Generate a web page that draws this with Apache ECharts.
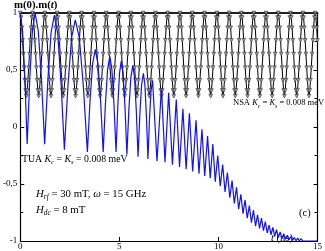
<!DOCTYPE html>
<html><head><meta charset="utf-8">
<script src="https://cdn.jsdelivr.net/npm/echarts@6/dist/echarts.min.js"></script>
<style>html,body{margin:0;padding:0;background:#fff}#c{width:325px;height:251px}</style>
</head><body><div id="c"></div>
<script>
// NSA: sampled every nsaStep ns starting at t = 0
var nsaStep = 0.03875;
var nsaValues = [
1,.96,.87,.76,.64,.52,.41,.32,.27,.32,.41,.52,.64,.76,.87,.96,
1,.96,.87,.76,.64,.52,.41,.32,.27,.32,.41,.52,.64,.76,.87,.96,
1,.96,.87,.76,.64,.52,.41,.32,.27,.32,.41,.52,.64,.76,.87,.96,
1,.96,.87,.76,.64,.52,.41,.32,.27,.32,.41,.52,.64,.76,.87,.96,
1,.96,.87,.76,.64,.52,.41,.32,.27,.32,.41,.52,.64,.76,.87,.96,
1,.96,.87,.76,.64,.52,.41,.32,.27,.32,.41,.52,.64,.76,.87,.96,
1,.96,.87,.76,.64,.52,.41,.32,.27,.32,.41,.52,.64,.76,.87,.96,
1,.96,.87,.76,.64,.52,.41,.32,.27,.32,.41,.52,.64,.76,.87,.96,
1,.96,.87,.76,.64,.52,.41,.32,.27,.32,.41,.52,.64,.76,.87,.96,
1,.96,.87,.76,.64,.52,.41,.32,.27,.32,.41,.52,.64,.76,.87,.96,
1,.96,.87,.76,.64,.52,.41,.32,.27,.32,.41,.52,.64,.76,.87,.96,
1,.96,.87,.76,.64,.52,.41,.32,.27,.32,.41,.52,.64,.76,.87,.96,
1,.96,.87,.76,.64,.52,.41,.32,.27,.32,.41,.52,.64,.76,.87,.96,
1,.96,.87,.76,.64,.52,.41,.32,.27,.32,.41,.52,.64,.76,.87,.96,
1,.96,.87,.76,.64,.52,.41,.32,.27,.32,.41,.52,.64,.76,.87,.96,
1,.96,.87,.76,.64,.52,.41,.32,.27,.32,.41,.52,.64,.76,.87,.96,
1,.96,.87,.76,.64,.52,.41,.32,.27,.32,.41,.52,.64,.76,.87,.96,
1,.96,.87,.76,.64,.52,.41,.32,.27,.32,.41,.52,.64,.76,.87,.96,
1,.96,.87,.76,.64,.52,.41,.32,.27,.32,.41,.52,.64,.76,.87,.96,
1,.96,.87,.76,.64,.52,.41,.32,.27,.32,.41,.52,.64,.76,.87,.96,
1,.96,.87,.76,.64,.52,.41,.32,.27,.32,.41,.52,.64,.76,.87,.96,
1,.96,.87,.76,.64,.52,.41,.32,.27,.32,.41,.52,.64,.76,.87,.96,
1,.96,.87,.76,.64,.52,.41,.32,.27,.32,.41,.52,.64,.76,.87,.96,
1,.96,.87,.76,.64,.52,.41,.32,.27,.32,.41,.52,.64,.76,.87,.96,
1,.96,.87,.76
];
// TUA: time (ns) and value
var tuaT = [0,0.116,0.233,0.349,0.482,0.614,0.747,0.908,1.070,1.231,1.394,1.556,1.719,1.889,2.058,2.227,
2.410,2.593,2.776,2.980,3.184,3.388,3.521,3.654,3.787,3.920,4.053,4.186,4.297,4.408,4.520,4.624,4.729,4.834,
4.922,5.009,5.098,5.192,5.287,5.382,5.481,5.581,5.681,5.769,5.857,5.945,6.034,6.124,6.214,6.290,6.367,6.443,
6.521,6.599,6.677,6.901,7.126,7.305,7.489,7.679,7.873,8.038,8.207,8.371,8.536,8.700,8.870,9.019,9.169,9.308,
9.453,9.587,9.717,9.841,9.966,10.091,10.215,10.335,10.454,10.574,10.689,10.803,10.913,11.022,11.132,11.242,
11.346,11.456,11.561,11.665,11.770,11.874,11.974,12.074,12.173,12.273,12.368,12.462,12.557,12.652,12.746,
12.841,12.931,13.025,13.115,13.205,13.295,13.384,13.474,13.564,13.653,13.743,13.828,13.917,14.002,14.087,
14.172,14.256,14.341,14.426,14.511,14.595,14.680,14.765,14.849,14.934,15.0];
var tuaV = [1.0,0.846,0.425,-0.15,0.425,0.846,1.0,0.846,0.425,-0.15,0.415,0.829,0.98,0.822,0.39,-0.20,
0.37,0.787,0.94,0.785,0.36,-0.22,0.23,0.559,0.68,0.559,0.23,-0.22,0.20,0.507,0.62,0.507,0.20,-0.22,
0.18,0.473,0.58,0.47,0.17,-0.24,0.15,0.435,0.54,0.433,0.14,-0.26,0.105,0.372,0.47,0.37,0.095,-0.28,
0.065,0.318,0.41,-0.30,0.34,-0.31,0.30,-0.33,0.24,-0.35,0.16,-0.37,0.12,-0.39,0.06,-0.41,-0.02,-0.43,
-0.08,-0.45,-0.15,-0.48,-0.25,-0.52,-0.33,-0.57,-0.40,-0.62,-0.47,-0.67,-0.53,-0.72,-0.59,-0.76,
-0.64,-0.80,-0.69,-0.84,-0.73,-0.87,-0.77,-0.89,-0.80,-0.91,-0.83,-0.93,-0.86,-0.945,-0.88,
-0.96,-0.90,-0.97,-0.92,-0.98,-0.935,-0.985,-0.95,-0.99,-0.96,-0.995,-0.97,-0.998,-0.975,-1.0,
-0.98,-1.0,-0.985,-1.0,-0.99,-1.0,-0.99,-1.0,-0.995,-1.0,-0.995];
var xTicks = [0, 5, 10, 15];
var yTicks = [-1, -0.5, 0, 0.5, 1];

var nsaData = nsaValues.map(function (v, i) { return [i * nsaStep, v]; });
var tuaData = tuaT.map(function (t, i) { return [t, tuaV[i]]; });

var FF = 'Liberation Serif';
var chart = echarts.init(document.getElementById('c'), null, {renderer: 'canvas'});
function rich(color, fs) {
  return {
    n: {fontSize: fs, fontFamily: FF, color: color, lineHeight: 13},
    i: {fontSize: fs, fontFamily: FF, fontStyle: 'italic', color: color, lineHeight: 13},
    s: {fontSize: fs * 0.68, fontFamily: FF, fontStyle: 'italic', color: color, verticalAlign: 'bottom', lineHeight: 7}
  };
}
var axisCommon = {
  type: 'value',
  axisLine: {show: true, onZero: false, lineStyle: {color: '#000', width: 1.2}},
  axisTick: {show: true, inside: true, length: 4, lineStyle: {color: '#000'}},
  minorTick: {show: true, splitNumber: 2, length: 3, lineStyle: {color: '#000'}},
  splitLine: {show: false},
  minorSplitLine: {show: false}
};
var option = {
  animation: false,
  backgroundColor: '#fff',
  grid: {left: 17, right: 7, top: 13, bottom: 5, containLabel: false},
  xAxis: [
    Object.assign({}, axisCommon, {min: 0, max: 15, interval: 5, position: 'bottom',
      minorTick: {show: false},
      axisLabel: {show: true, margin: 1, fontSize: 9, fontFamily: FF, color: '#000'}}),
    Object.assign({}, axisCommon, {min: 0, max: 15, interval: 5, position: 'top',
      minorTick: {show: false},
      axisLine: {show: true, onZero: false, lineStyle: {color: '#222', width: 2}},
      axisLabel: {show: false}})
  ],
  yAxis: [
    Object.assign({}, axisCommon, {min: -1, max: 1, interval: 0.5, position: 'left',
      axisLabel: {show: true, margin: 3, fontSize: 9, fontFamily: FF, color: '#000',
        formatter: function (v) { return String(v).replace('.', ','); }}}),
    Object.assign({}, axisCommon, {min: -1, max: 1, interval: 0.5, position: 'right',
      axisLabel: {show: false}})
  ],
  series: [
    {type: 'line', name: 'NSA', data: nsaData, xAxisIndex: 0, yAxisIndex: 0,
      showSymbol: true, showAllSymbol: true, symbol: 'triangle', symbolRotate: 180, symbolSize: 3.8,
      itemStyle: {color: '#9a9a9a', borderColor: '#2a2a2a', borderWidth: 0.5},
      lineStyle: {color: '#000', width: 1}, z: 2},
    {type: 'line', name: 'TUA', data: tuaData, xAxisIndex: 0, yAxisIndex: 0,
      showSymbol: false, lineStyle: {color: '#1010ff', width: 1.2}, z: 3}
  ],
  graphic: [
    {type: 'text', left: 14, top: 0, style: {
      text: '{b|m(0).m(}{bi|t}{b|)}', rich: {
        b: {fontSize: 10.8, fontFamily: FF, fontWeight: 'bold', color: '#000'},
        bi: {fontSize: 10.8, fontFamily: FF, fontWeight: 'bold', fontStyle: 'italic', color: '#000'}}}},
    {type: 'text', left: 233, top: 98, style: {
      text: '{n|NSA }{i|K}{s|c}{n| = }{i|K}{s|s}{n| = 0.008 meV}', rich: rich('#000', 8.5)}},
    {type: 'text', left: 22, top: 154, style: {
      text: '{n|TUA }{i|K}{s|c}{n| = }{i|K}{s|s}{n| = 0.008 meV}', rich: rich('#1010ff', 9.8)}},
    {type: 'text', left: 36, top: 189, style: {
      text: '{i|H}{s|rf}{n| = 30 mT, }{i|ω}{n| = 15 GHz}', rich: rich('#000', 10.8)}},
    {type: 'text', left: 36, top: 205, style: {
      text: '{i|H}{s|dc}{n| = 8 mT}', rich: rich('#000', 10.8)}},
    {type: 'text', left: 299, top: 208, style: {
      text: '(c)', fontSize: 10.5, fontFamily: FF, fill: '#000'}},
    {type: 'text', left: 271, top: 233, style: {
      text: '{i|t}{n| (ns)}', rich: rich('#000', 10.5)}}
  ]
};
chart.setOption(option);
</script>
</body></html>
